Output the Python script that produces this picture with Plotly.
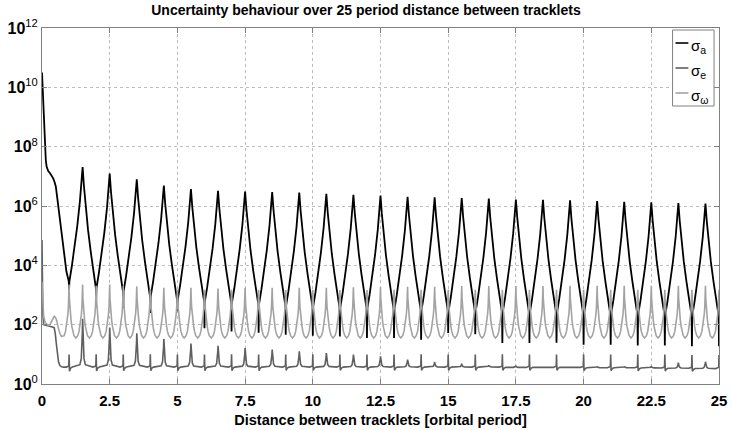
import plotly.graph_objects as go

FONT = "Liberation Sans, Arial, Helvetica, sans-serif"

# ---------------- values (log10 of each sigma) ----------------
# sigma_a : initial transient
a_start_x = [0.0, 0.01, 0.03, 0.05, 0.08, 0.11, 0.14, 0.17, 0.23, 0.29, 0.35, 0.41,
             0.46, 0.51, 0.56, 0.60, 0.66, 0.72, 0.78, 0.84, 0.90]
a_start_y = [10.5, 10.3, 9.6, 9.13, 8.4, 7.9, 7.55, 7.33, 7.18, 7.11, 7.04, 6.94,
             6.82, 6.66, 6.3, 5.99, 5.55, 5.09, 4.65, 4.19, 3.8]
# sigma_a : troughs (at whole periods) - level where the V flanks meet and the narrow dip below
a_trough_x = [1, 2, 3, 4, 5, 6, 7, 8, 9, 10, 11, 12, 13, 14, 15, 16, 17, 18, 19, 20,
              21, 22, 23, 24, 25]
a_trough_meet = [3.46, 3.24, 3.12, 2.95, 2.84, 2.78, 2.73, 2.68, 2.63, 2.6, 2.56, 2.53,
                 2.5, 2.47, 2.45, 2.43, 2.41, 2.39, 2.37, 2.35, 2.33, 2.32, 2.31, 2.3, 2.3]
a_trough_min = [3.18, 2.84, 2.56, 2.39, 2.45, 1.88, 1.77, 1.73, 1.66, 1.63, 1.6, 1.55,
                1.55, 1.49, 1.72, 1.68, 1.38, 1.38, 1.39, 1.32, 1.32, 1.3, 1.3, 1.27, 1.27]
# sigma_a : peaks (at half periods)
a_peak_x = [1.5, 2.5, 3.5, 4.5, 5.5, 6.5, 7.5, 8.5, 9.5, 10.5, 11.5, 12.5, 13.5, 14.5,
            15.5, 16.5, 17.5, 18.5, 19.5, 20.5, 21.5, 22.5, 23.5, 24.5]
a_peak = [7.31, 7.09, 6.9, 6.69, 6.57, 6.51, 6.49, 6.47, 6.45, 6.41, 6.38, 6.35, 6.31,
          6.29, 6.27, 6.25, 6.22, 6.21, 6.19, 6.17, 6.14, 6.12, 6.1, 6.08]
# sigma_a : flank shape (distance from trough, share of trough->peak rise)
a_arm_dx = [0.1, 0.2, 0.3, 0.4, 0.45]
a_arm_frac = [0.13, 0.3, 0.48, 0.7, 0.84]

# sigma_e : initial transient
e_start_x = [0.0, 0.01, 0.03, 0.06, 0.15, 0.25, 0.35, 0.45, 0.49, 0.53, 0.57, 0.61,
             0.66, 0.72, 0.8, 0.9]
e_start_y = [4.85, 3.6, 2.4, 2.0, 1.97, 1.95, 1.93, 1.9, 1.7, 1.35, 1.0, 0.75, 0.62,
             0.58, 0.57, 0.57]
# sigma_e : small spikes at whole periods (top, dip just after) and baseline
e_int_x = a_trough_x
e_int_top = [0.99, 1.0, 0.99, 1.0, 0.99, 0.99, 1.0, 0.99, 0.99, 1.0, 0.99, 0.99, 0.99,
             1.0, 0.99, 0.99, 1.0, 0.99, 0.99, 1.0, 0.99, 0.99, 0.99, 0.98, 0.98]
e_dip = [0.43, 0.44, 0.45, 0.45, 0.45, 0.45, 0.45, 0.45, 0.46, 0.46, 0.46, 0.46, 0.46,
         0.46, 0.46, 0.46, 0.46, 0.46, 0.46, 0.45, 0.45, 0.44, 0.44, 0.43, 0.43]
e_base = [0.57, 0.57, 0.57, 0.57, 0.57, 0.57, 0.57, 0.57, 0.57, 0.57, 0.57, 0.57, 0.57,
          0.57, 0.57, 0.57, 0.56, 0.56, 0.56, 0.55, 0.55, 0.54, 0.53, 0.52, 0.52]
# sigma_e : spikes at half periods
e_half_x = a_peak_x
e_half_top = [2.2, 1.9, 1.71, 1.52, 1.36, 1.29, 1.21, 1.16, 1.1, 1.04, 0.99, 0.93, 0.82,
              0.74, 0.68, 0.63, 0.6, 0.58, 0.58, 0.58, 0.58, 0.6, 0.72, 0.75]
e_flank_dx = [0.01, 0.025, 0.05, 0.1]
e_flank_frac = [0.72, 0.42, 0.18, 0.05]

# sigma_omega : initial transient
w_start_x = [0.0, 0.01, 0.03, 0.06, 0.1, 0.17, 0.24, 0.3, 0.36, 0.41, 0.45, 0.5, 0.55,
             0.6, 0.66, 0.72]
w_start_y = [3.45, 3.1, 2.6, 2.3, 2.12, 2.02, 1.98, 2.0, 2.12, 2.24, 2.28, 2.24, 2.12,
             1.9, 1.7, 1.6]
# sigma_omega : spikes every half period, troughs between them
w_peak_x = [1.0, 1.5, 2.0, 2.5, 3.0, 3.5, 4.0, 4.5, 5.0, 5.5, 6.0, 6.5, 7.0, 7.5, 8.0,
            8.5, 9.0, 9.5, 10.0, 10.5, 11.0, 11.5, 12.0, 12.5, 13.0, 13.5, 14.0, 14.5,
            15.0, 15.5, 16.0, 16.5, 17.0, 17.5, 18.0, 18.5, 19.0, 19.5, 20.0, 20.5, 21.0,
            21.5, 22.0, 22.5, 23.0, 23.5, 24.0, 24.5, 25.0]
w_peak = [3.35, 3.35, 3.31, 3.35, 3.31, 3.29, 3.2, 3.24, 3.18, 3.24, 3.18, 3.22, 3.18,
          3.24, 3.18, 3.24, 3.17, 3.24, 3.18, 3.24, 3.17, 3.26, 3.17, 3.26, 3.18, 3.28,
          3.18, 3.28, 3.18, 3.3, 3.18, 3.3, 3.18, 3.3, 3.18, 3.3, 3.18, 3.31, 3.18, 3.31,
          3.18, 3.31, 3.18, 3.31, 3.18, 3.31, 3.18, 3.31, 3.18]
w_trough = [1.55] * 48
w_flank_dx = [0.01, 0.025, 0.045, 0.07, 0.1, 0.13, 0.18]
w_flank = [2.9, 2.6, 2.35, 2.17, 1.95, 1.78, 1.63]

# axes
x_ticks = [0, 2.5, 5, 7.5, 10, 12.5, 15, 17.5, 20, 22.5, 25]
x_tick_labels = ["0", "2.5", "5", "7.5", "10", "12.5", "15", "17.5", "20", "22.5", "25"]
y_exponents = [0, 2, 4, 6, 8, 10, 12]

series_names = ["σ<sub>a</sub>", "σ<sub>e</sub>", "σ<sub>ω</sub>"]
series_colors = ["#000000", "#5f5f5f", "#a3a3a3"]

# ---------------- assemble the polylines from the read values ----------------
ax, ay = list(a_start_x), list(a_start_y)
for i, k in enumerate(a_trough_x):
    M, m = a_trough_meet[i], a_trough_min[i]
    if i > 0:
        P = a_peak[i - 1]
        for dx, f in reversed(list(zip(a_arm_dx, a_arm_frac))):
            ax.append(k - dx)
            ay.append(M + f * (P - M))
    ax += [k - 0.012, k]
    ay += [M, m]
    if i < len(a_peak):
        ax.append(k + 0.012)
        ay.append(M)
        P = a_peak[i]
        for dx, f in zip(a_arm_dx, a_arm_frac):
            ax.append(k + dx)
            ay.append(M + f * (P - M))
        ax.append(a_peak_x[i])
        ay.append(P)

ex, ey = list(e_start_x), list(e_start_y)
for i, k in enumerate(e_int_x):
    B = e_base[i]
    ex += [k - 0.012, k]
    ey += [B + 0.04, e_int_top[i]]
    if i < len(e_half_x):
        ex += [k + 0.015, k + 0.06, k + 0.12]
        ey += [e_dip[i], B - 0.03, B]
        h, H = e_half_x[i], e_half_top[i]
        for dx, f in reversed(list(zip(e_flank_dx, e_flank_frac))):
            ex.append(h - dx)
            ey.append(B + f * (H - B))
        ex.append(h)
        ey.append(H)
        for dx, f in zip(e_flank_dx, e_flank_frac):
            ex.append(h + dx)
            ey.append(B + f * (H - B))
        ex.append(k + 0.88)
        ey.append(B)

wx, wy = list(w_start_x), list(w_start_y)
for i, c in enumerate(w_peak_x):
    for dx, v in reversed(list(zip(w_flank_dx, w_flank))):
        wx.append(c - dx)
        wy.append(v)
    wx.append(c)
    wy.append(w_peak[i])
    if i < len(w_trough):
        for dx, v in zip(w_flank_dx, w_flank):
            wx.append(c + dx)
            wy.append(v)
        wx.append(c + 0.25)
        wy.append(w_trough[i])

fig = go.Figure()
for xs, ys, name, col, wid in [(ax, ay, series_names[0], series_colors[0], 1.8),
                                (ex, ey, series_names[1], series_colors[1], 1.6),
                                (wx, wy, series_names[2], series_colors[2], 1.6)]:
    fig.add_trace(go.Scatter(x=xs, y=[10 ** v for v in ys], mode="lines", name=name,
                             line=dict(color=col, width=wid), showlegend=False))

# ---------------- layout ----------------
L, R, T, B = 42, 5, 28, 46
W, H = 732, 430
pw, ph = W - L - R, H - T - B


def px2x(p):
    return (p - L) / pw


def px2y(p):
    return (H - B - p) / ph


fig.update_layout(
    width=W, height=H, margin=dict(l=L, r=R, t=T, b=B),
    paper_bgcolor="white", plot_bgcolor="white", showlegend=False,
    title=dict(text="<b>Uncertainty behaviour over 25 period distance between tracklets</b>",
               x=0.5, xref="container", xanchor="center",
               y=1 - 10 / H, yref="container", yanchor="middle",
               font=dict(family=FONT, size=14, color="black")),
)
fig.update_xaxes(
    range=[0, 25], tickvals=x_ticks, ticktext=["<b>%s</b>" % t for t in x_tick_labels],
    ticks="inside", ticklen=5, tickcolor="#808080", showline=True, linecolor="#808080",
    linewidth=1, mirror="ticks", showgrid=True, gridcolor="#bdbdbd", griddash="dot",
    gridwidth=1, zeroline=False, tickfont=dict(family=FONT, size=15, color="black"),
    ticklabeloverflow="allow", ticklabelstandoff=3,
    title=dict(text="<b>Distance between tracklets [orbital period]</b>",
               font=dict(family=FONT, size=14.5, color="black"), standoff=6),
)
fig.update_yaxes(
    type="log", range=[0, 12], tickvals=[10 ** e for e in y_exponents],
    ticktext=["<b>10</b><sup>%d</sup>" % e for e in y_exponents],
    ticks="inside", ticklen=5, tickcolor="#808080", showline=True, linecolor="#808080",
    linewidth=1, mirror="ticks", showgrid=True, gridcolor="#bdbdbd", griddash="dot",
    gridwidth=1, zeroline=False, tickfont=dict(family=FONT, size=16, color="black"),
    ticklabelstandoff=0, ticklabeloverflow="allow",
)

# legend box (drawn like the original MATLAB legend)
fig.add_shape(type="rect", xref="paper", yref="paper", x0=px2x(680), x1=px2x(722),
              y0=px2y(106), y1=px2y(30), line=dict(color="#808080", width=1),
              fillcolor="white", layer="above")
for j, (name, col) in enumerate(zip(series_names, series_colors)):
    yy = 43 + 25 * j
    fig.add_shape(type="line", xref="paper", yref="paper", x0=px2x(683), x1=px2x(696),
                  y0=px2y(yy), y1=px2y(yy), line=dict(color=col, width=1.6), layer="above")
    fig.add_annotation(xref="paper", yref="paper", x=px2x(697), y=px2y(yy + 3),
                       text=name, showarrow=False, xanchor="left", yanchor="middle",
                       font=dict(family=FONT, size=15, color="black"))

fig.write_html("out.html")
